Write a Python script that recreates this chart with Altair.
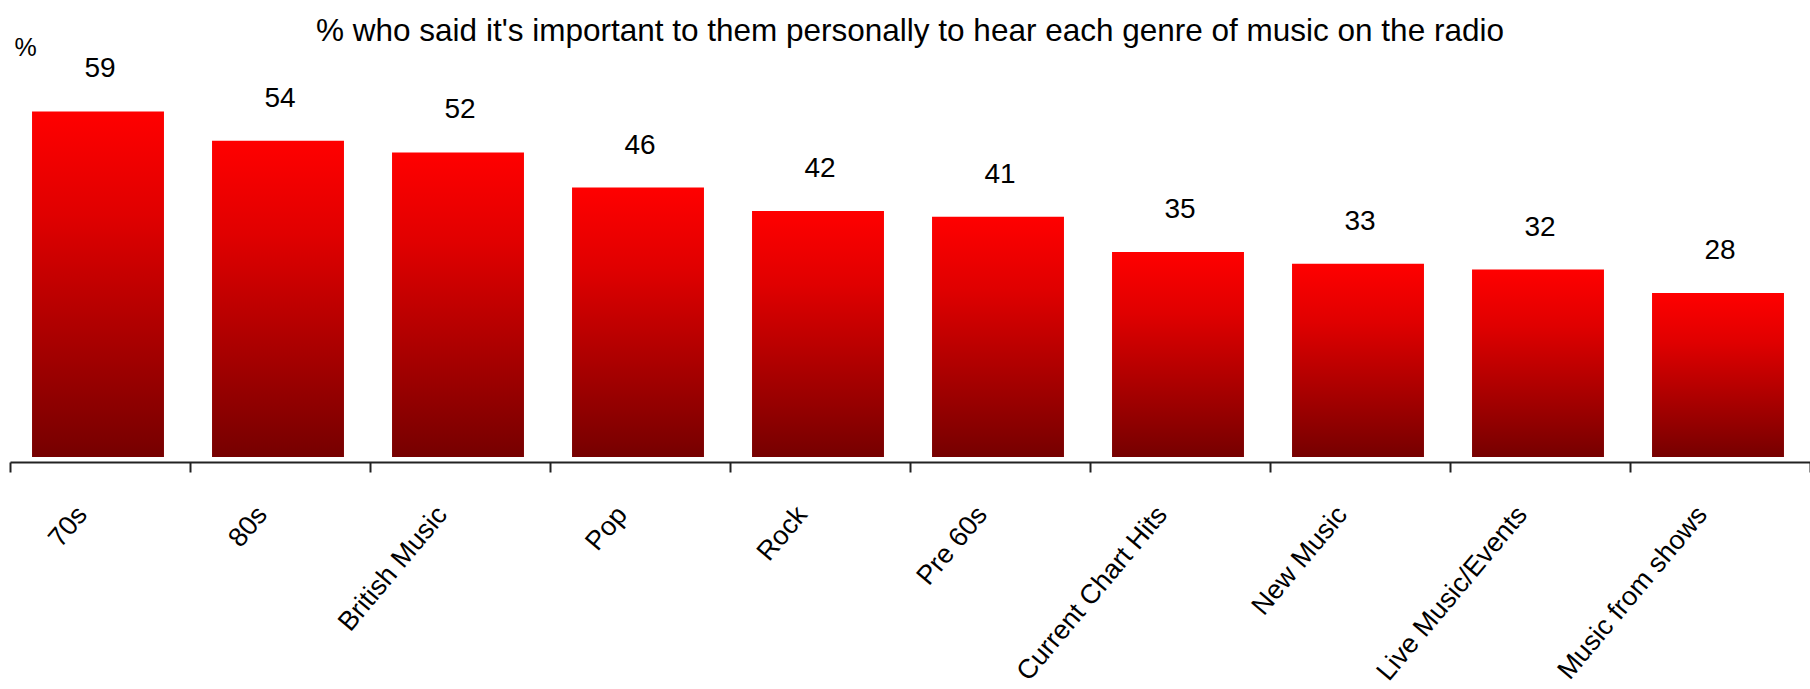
import altair as alt
import pandas as pd

# Share of listeners (%) who find each genre important to hear on the radio
genres = [
    "70s", "80s", "British Music", "Pop", "Rock", "Pre 60s",
    "Current Chart Hits", "New Music", "Live Music/Events", "Music from shows",
]
shares = [59, 54, 52, 46, 42, 41, 35, 33, 32, 28]

title_text = "% who said it's important to them personally to hear each genre of music on the radio"

df = pd.DataFrame({"genre": genres, "share": shares})

FONT = "Liberation Sans, Arial, sans-serif"

red_fade = alt.LinearGradient(
    gradient="linear",
    stops=[
        alt.GradientStop(color="#ff0000", offset=0),
        alt.GradientStop(color="#e00000", offset=0.3),
        alt.GradientStop(color="#760000", offset=1),
    ],
    x1=0, x2=0, y1=0, y2=1,
)

x_enc = alt.X(
    "genre:N",
    sort=genres,
    scale=alt.Scale(paddingInner=0, paddingOuter=0),
    axis=alt.Axis(
        title=None,
        tickBand="extent",
        labelAngle=310,
        labelAlign="right",
        labelBaseline="alphabetic",
        labelPadding=43,
        labelOffset=-12,
        labelFont=FONT,
        labelFontSize=27,
        labelColor="black",
        labelOverlap=False,
        labelLimit=0,
        labelBound=False,
        labelFlush=False,
        domainColor="#222222",
        domainWidth=2,
        tickColor="#222222",
        tickWidth=2,
        tickSize=10,
        offset=5,
        grid=False,
    ),
)

y_enc = alt.Y(
    "share:Q",
    scale=alt.Scale(domain=[0, 70], nice=False, zero=True),
    axis=alt.Axis(
        title="%",
        titleAngle=0,
        titleAlign="left",
        titleBaseline="alphabetic",
        titleX=4,
        titleY=8,
        titleFont=FONT,
        titleFontSize=25,
        titleFontWeight="normal",
        titleColor="black",
        domain=False,
        ticks=False,
        labels=False,
        grid=False,
    ),
)

base = alt.Chart(df).encode(x=x_enc, y=y_enc)

bars = base.mark_bar(color=red_fade, width=alt.RelativeBandSize(0.733), xOffset=-2)

values = base.mark_text(
    font=FONT, fontSize=28, baseline="alphabetic", dy=-34, color="black"
).encode(text="share:Q")

chart = (
    alt.layer(bars, values)
    .properties(
        width=1800,
        height=410,
        background="white",
        autosize=alt.AutoSizeParams(type="none"),
        padding={"left": 10, "top": 47, "right": 0, "bottom": 232},
        title=alt.TitleParams(
            text=title_text,
            font=FONT,
            fontSize=31.5,
            fontWeight="normal",
            color="black",
            anchor="middle",
            baseline="alphabetic",
            offset=0,
            dy=37,
        ),
    )
    .configure_view(strokeWidth=0, stroke="transparent")
)

chart.save("out.html", embed_options={"renderer": "svg", "actions": False})
